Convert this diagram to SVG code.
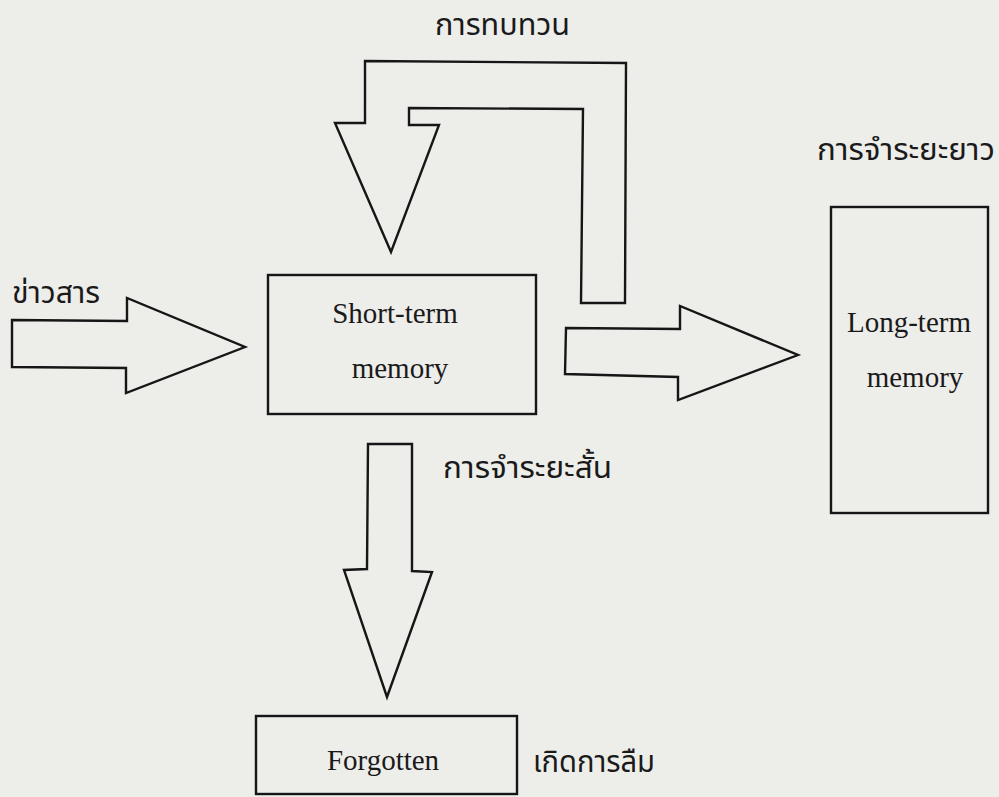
<svg xmlns="http://www.w3.org/2000/svg" width="999" height="797" viewBox="0 0 999 797">
<style>
.shape{fill:none;stroke:#161616;stroke-width:2.4;stroke-linejoin:miter}
.en{font-family:"Liberation Serif",serif;font-size:29px;fill:#1a1a1a;text-anchor:middle}
.th{font-family:"Noto Sans Thai","Noto Sans","DejaVu Sans",sans-serif;font-size:31px;fill:#1a1a1a}
</style>
<rect width="999" height="797" fill="#ededea"/>
<g id="connectors">
<polygon id="input-arrow" class="shape" points="12,320 127,321 127,298 245,347 126,393 126,368 12,367"/>
<polygon id="rehearsal-loop" class="shape" points="365,61 626,63 625,303 581,303 583,109 409,108 409,125 439,125 391,252 335,123 365,123"/>
<polygon id="transfer-arrow" class="shape" points="566,328 680,329 680,306 798,355 678,400 678,377 565,374"/>
<polygon id="forget-arrow" class="shape" points="368,444 412,444 412,571 432,572 387,697 344,570 367,569"/>
</g>
<g id="short-term">
<rect class="shape" x="268" y="275" width="268" height="139"/>
<text class="en" x="395" y="323">Short-term</text>
<text class="en" x="400" y="378">memory</text>
</g>
<g id="long-term">
<rect class="shape" x="831" y="207" width="157" height="306"/>
<text class="en" x="909" y="332">Long-term</text>
<text class="en" x="915" y="387">memory</text>
</g>
<g id="forgotten">
<rect class="shape" x="256" y="716" width="261" height="78"/>
<text class="en" x="383" y="770">Forgotten</text>
</g>
<g id="labels">
<text class="th" x="435" y="35" textLength="135" lengthAdjust="spacingAndGlyphs">การทบทวน</text>
<text class="th" x="817" y="160" textLength="178" lengthAdjust="spacingAndGlyphs">การจำระยะยาว</text>
<text class="th" x="12" y="303" textLength="88" lengthAdjust="spacingAndGlyphs">ข่าวสาร</text>
<text class="th" x="443" y="478" textLength="169" lengthAdjust="spacingAndGlyphs">การจำระยะสั้น</text>
<text class="th" x="533" y="772" textLength="122" lengthAdjust="spacingAndGlyphs">เกิดการลืม</text>
</g>
</svg>
